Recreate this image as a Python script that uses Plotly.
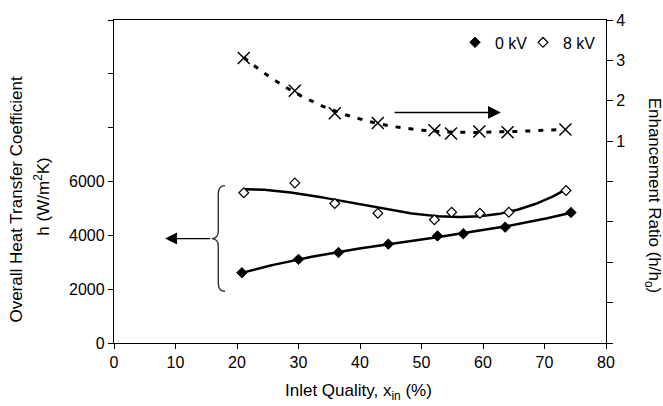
import numpy as np
import plotly.graph_objects as go

# ---- data ----
x_0kv = [20.8, 30.0, 36.5, 44.6, 52.6, 56.8, 63.6, 74.3]
h_0kv = [2610, 3107, 3361, 3673, 3978, 4061, 4304, 4847]

x_8kv = [21.1, 29.4, 35.9, 42.9, 52.1, 54.9, 59.5, 64.2, 73.5]
h_8kv = [5583, 5946, 5184, 4822, 4579, 4858, 4822, 4858, 5667]

x_ratio = [21.1, 29.4, 35.9, 42.9, 52.1, 54.8, 59.4, 64.0, 73.4]
ratio = [3.06, 2.25, 1.69, 1.45, 1.27, 1.19, 1.24, 1.22, 1.29]

x_ticks = [0, 10, 20, 30, 40, 50, 60, 70, 80]
h_ticks = [0, 2000, 4000, 6000, 8000, 10000, 12000]
h_ticktext = ["0", "2000", "4000", "6000", "", "", ""]
r_ticks = [-4, -3, -2, -1, 0, 1, 2, 3, 4]
r_ticktext = ["", "", "", "", "", "1", "2", "3", "4"]


def trend(x, y, deg=3):
    c = np.polyfit(x, y, deg)
    xs = np.linspace(min(x), max(x), 200)
    return xs, np.polyval(c, xs)


# screen-pixel -> paper helpers (plot area: x 114..606, y 12..343)
def px(sx):
    return (sx - 114) / 492


def py(sy):
    return (343 - sy) / 331


FONT = "Liberation Sans, Arial, sans-serif"
fig = go.Figure()

# trendlines
tx, ty = trend(x_0kv, h_0kv)
fig.add_trace(go.Scatter(x=tx, y=ty, mode="lines", line=dict(color="black", width=2.5),
                         showlegend=False, hoverinfo="skip"))
tx, ty = trend(x_8kv, h_8kv)
fig.add_trace(go.Scatter(x=tx, y=ty, mode="lines", line=dict(color="black", width=2.5),
                         showlegend=False, hoverinfo="skip"))
tx, ty = trend(x_ratio, ratio)
fig.add_trace(go.Scatter(x=tx, y=ty, mode="lines", yaxis="y2",
                         line=dict(color="black", width=3, dash="5px,8px"),
                         showlegend=False, hoverinfo="skip"))

# markers
fig.add_trace(go.Scatter(x=x_0kv, y=h_0kv, mode="markers", name="0 kV", legend="legend",
                         marker=dict(symbol="diamond", size=8, color="black",
                                     line=dict(color="black", width=1))))
fig.add_trace(go.Scatter(x=x_8kv, y=h_8kv, mode="markers", name="8 kV", legend="legend2",
                         marker=dict(symbol="diamond", size=7.5, color="white",
                                     line=dict(color="black", width=1.2))))
fig.add_trace(go.Scatter(x=x_ratio, y=ratio, mode="markers", yaxis="y2", showlegend=False,
                         marker=dict(symbol="x-thin-open", size=12, color="black",
                                     line=dict(color="black", width=1.5))))

# brace
brace = ("M 18.05,5847 Q 16.96,5847 16.96,5546 L 16.96,4169 Q 16.96,3879 15.89,3879 "
         "Q 16.96,3879 16.96,3589 L 16.96,2211 Q 16.96,1921 18.05,1921")
fig.add_shape(type="path", path=brace, xref="x", yref="y",
              line=dict(color="#333333", width=1.4))

annotations = [
    # left arrow
    dict(x=8.3, y=3879, ax=15.89, ay=3879, xref="x", yref="y", axref="x", ayref="y",
         showarrow=True, arrowhead=2, arrowsize=1.85, arrowwidth=1.3, arrowcolor="black", text=""),
    # right arrow
    dict(x=62.9, y=1.71, ax=45.37, ay=1.71, xref="x", yref="y2", axref="x", ayref="y2",
         showarrow=True, arrowhead=2, arrowsize=1.7, arrowwidth=1.5, arrowcolor="black", text=""),
    # axis titles
    dict(text="Overall Heat Transfer Coefficient", textangle=-90, xref="paper", yref="paper",
         x=px(17), y=py(196), xanchor="center", yanchor="middle",
         showarrow=False, font=dict(size=17, color="black", family=FONT)),
    dict(text="h (W/m<sup>2</sup>K)", textangle=-90, xref="paper", yref="paper",
         x=px(42), y=py(193), xanchor="center", yanchor="middle",
         showarrow=False, font=dict(size=17, color="black", family=FONT)),
    dict(text="Enhancement Ratio (h/h<sub>o</sub>)", textangle=90, xref="paper", yref="paper",
         x=px(653), y=py(192), xanchor="center", yanchor="middle",
         showarrow=False, font=dict(size=17, color="black", family=FONT)),
    dict(text="Inlet Quality, x<sub>in</sub> (%)", xref="paper", yref="paper",
         x=px(358), y=py(393), xanchor="center", yanchor="middle",
         showarrow=False, font=dict(size=17, color="black", family=FONT)),
]

axis_common = dict(showline=True, linecolor="black", linewidth=1.3, showgrid=False,
                   zeroline=False, ticks="outside", tickcolor="black", tickwidth=1,
                   ticklabeloverflow="allow",
                   tickfont=dict(size=16, color="black", family=FONT))

legend_common = dict(orientation="h", xanchor="left", yanchor="middle",
                     bgcolor="rgba(0,0,0,0)", font=dict(size=16, color="black", family=FONT),
                     itemwidth=30)

fig.update_layout(
    width=663, height=406, autosize=False,
    margin=dict(l=114, r=57, t=12, b=63),
    plot_bgcolor="white", paper_bgcolor="white",
    font=dict(family=FONT, color="black", size=16),
    xaxis=dict(range=[0, 80], tickvals=x_ticks, ticklen=5, mirror=True, **axis_common),
    yaxis=dict(range=[0, 12000], tickvals=h_ticks, ticktext=h_ticktext, ticklen=5, **axis_common),
    yaxis2=dict(range=[-4, 4], tickvals=r_ticks, ticktext=r_ticktext, ticklen=6,
                overlaying="y", side="right", **axis_common),
    legend=dict(x=px(455), y=py(35), **legend_common),
    legend2=dict(x=px(523), y=py(35), **legend_common),
    annotations=annotations,
)

fig.write_html(
    "out.html",
    config={"displayModeBar": False},
    post_script="document.body.style.margin='0';"
                "document.documentElement.style.overflow='hidden';"
                "document.body.style.overflow='hidden';",
)
